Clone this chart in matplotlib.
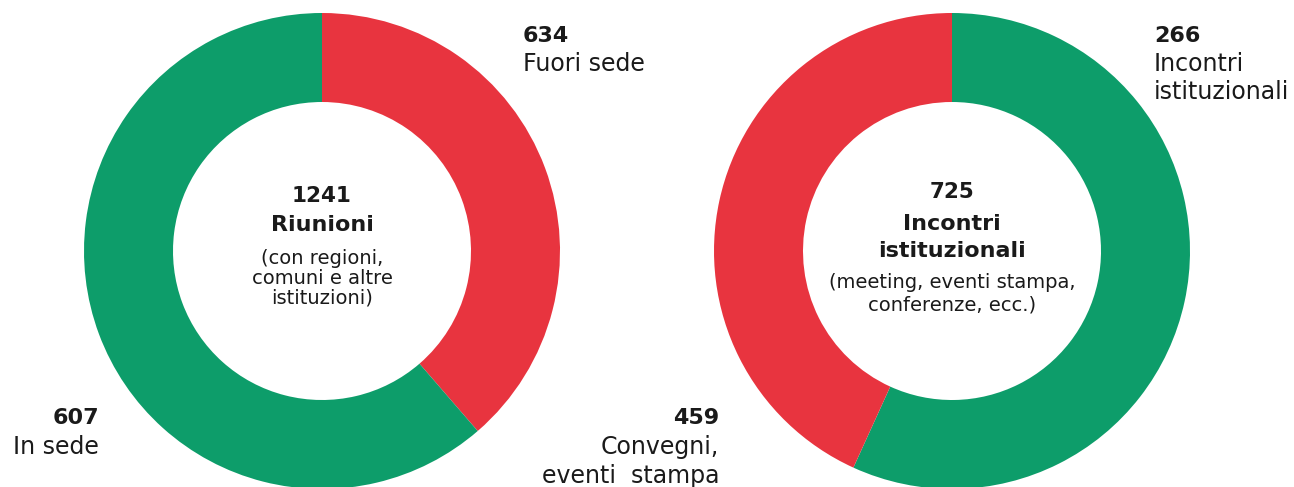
import matplotlib.pyplot as plt

# values shown in the labels
riunioni_labels = ['Fuori sede', 'In sede']
riunioni_values = [634, 607]
riunioni_total = 1241
# arc shares as drawn in the picture (percent)
riunioni_shares = [38.65, 61.35]

incontri_labels = [['Incontri', 'istituzionali'], ['Convegni,', 'eventi  stampa']]
incontri_values = [266, 459]
incontri_total = 725
incontri_shares = [56.8, 43.2]

red = '#E8343F'
green = '#0D9D6A'
txt = '#1a1a1a'

W, H = 1294, 487
fig = plt.figure(figsize=(W / 100, H / 100), dpi=100)
ax = fig.add_axes([0, 0, 1, 1])

R = 238
ring = (238 - 149) / 238

# left donut
ax.pie(riunioni_shares, colors=[red, green], startangle=90, counterclock=False,
       center=(322, H - 251), radius=R, frame=True,
       wedgeprops=dict(width=R * ring, linewidth=0))
# right donut
ax.pie(incontri_shares, colors=[green, red], startangle=90, counterclock=False,
       center=(952, H - 251), radius=R, frame=True,
       wedgeprops=dict(width=R * ring, linewidth=0))
ax.set_xlim(0, W)
ax.set_ylim(0, H)
ax.set_aspect('auto')
ax.axis('off')

def put(x, y, s, **kw):
    ax.text(x, H - y, s, va='center', color=txt, **kw)

# centre texts
put(322, 196, str(riunioni_total), ha='center', fontsize=15.5, fontweight='bold')
put(322, 225, 'Riunioni', ha='center', fontsize=16, fontweight='bold')
for yy, s in zip([258, 278, 298], ['(con regioni,', 'comuni e altre', 'istituzioni)']):
    put(322, yy, s, ha='center', fontsize=14)

put(952, 192, str(incontri_total), ha='center', fontsize=15.5, fontweight='bold')
put(952, 224, 'Incontri', ha='center', fontsize=16, fontweight='bold')
put(952, 251, 'istituzionali', ha='center', fontsize=16, fontweight='bold')
put(952, 283, '(meeting, eventi stampa,', ha='center', fontsize=14)
put(952, 305, 'conferenze, ecc.)', ha='center', fontsize=14)

# outer labels
put(523, 36, str(riunioni_values[0]), ha='left', fontsize=16, fontweight='bold')
put(523, 64, riunioni_labels[0], ha='left', fontsize=17)
put(99, 418, str(riunioni_values[1]), ha='right', fontsize=16, fontweight='bold')
put(99, 447, riunioni_labels[1], ha='right', fontsize=17)

put(1154, 36, str(incontri_values[0]), ha='left', fontsize=16, fontweight='bold')
put(1154, 64, incontri_labels[0][0], ha='left', fontsize=17)
put(1154, 92, incontri_labels[0][1], ha='left', fontsize=17)
put(719, 418, str(incontri_values[1]), ha='right', fontsize=16, fontweight='bold')
put(719, 447, incontri_labels[1][0], ha='right', fontsize=17)
put(719, 476, incontri_labels[1][1], ha='right', fontsize=17)

fig.savefig('out.png', dpi=100)
